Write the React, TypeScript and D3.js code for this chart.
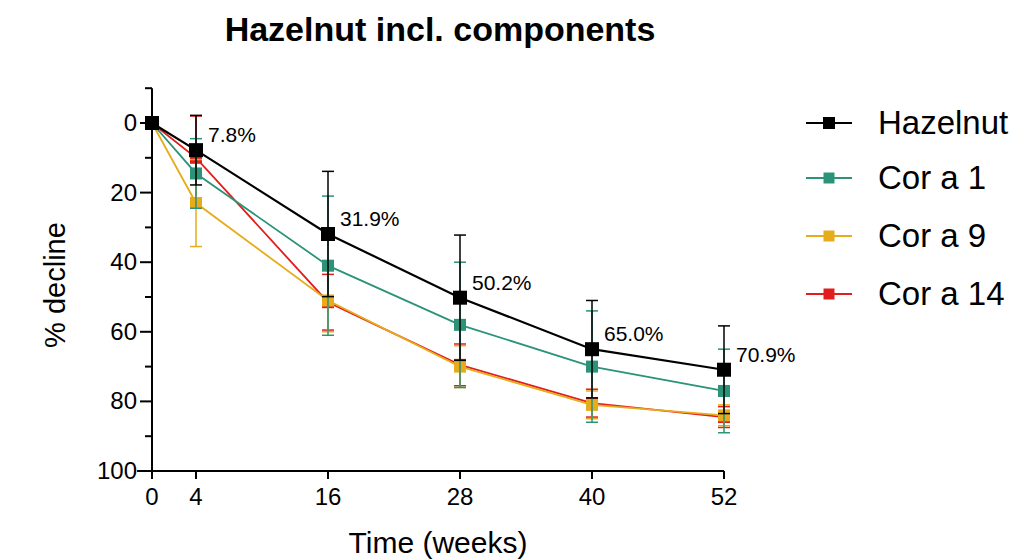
import React from "react";
import * as d3 from "d3";

const weeks = [0, 4, 16, 28, 40, 52];
const seriesNames = ["Hazelnut", "Cor a 1", "Cor a 9", "Cor a 14"];
const seriesColors = ["#000000", "#2a9378", "#e6ac1c", "#e21d1d"];
const hazelnutValues = [0, 7.8, 31.9, 50.2, 65.0, 70.9];
const hazelnutErrors = [0, 10, 18, 18, 14, 12.6];
const cora1Values = [0, 14.5, 41, 58, 70, 77];
const cora1Errors = [0, 10, 20, 18, 16, 12];
const cora9Values = [0, 23, 51, 70, 81, 84];
const cora9Errors = [0, 12.5, 9, 6, 4, 3];
const cora14Values = [0, 10, 51.5, 69.5, 80.5, 84.5];
const cora14Errors = [0, 12, 8, 6, 4, 3];
const percentLabels = ["7.8%", "31.9%", "50.2%", "65.0%", "70.9%"];
const yTicks = [0, 20, 40, 60, 80, 100];
const yMinorTicks = [-10, 10, 30, 50, 70, 90];

const allValues = [hazelnutValues, cora1Values, cora9Values, cora14Values];
const allErrors = [hazelnutErrors, cora1Errors, cora9Errors, cora14Errors];

export default function App() {
  const x = d3.scaleLinear().domain([0, 52]).range([152, 724]);
  const y = d3.scaleLinear().domain([0, 100]).range([123, 471]);
  const line = d3
    .line<number>()
    .x((_, i) => x(weeks[i]))
    .y((d) => y(d));
  const font = "Liberation Sans, Arial, sans-serif";
  const drawOrder = [3, 2, 1, 0];
  return (
    <svg
      width={1026}
      height={560}
      style={{ position: "absolute", left: 0, top: 0, background: "#fff" }}
      fontFamily={font}
    >
      <rect width={1026} height={560} fill="#fff" />
      <text x={440} y={41} textAnchor="middle" fontSize={34} fontWeight="bold">
        Hazelnut incl. components
      </text>
      {/* axes */}
      <line x1={x(0)} x2={x(0)} y1={y(-10)} y2={y(100)} stroke="#000" strokeWidth={2} />
      <line x1={137} x2={x(52)} y1={y(100)} y2={y(100)} stroke="#000" strokeWidth={2} />
      {yTicks.map((t) => (
        <g key={"y" + t}>
          <line x1={x(0) - 12} x2={x(0)} y1={y(t)} y2={y(t)} stroke="#000" strokeWidth={2} />
          <text x={x(0) - 15} y={y(t) + 8} textAnchor="end" fontSize={24}>
            {t}
          </text>
        </g>
      ))}
      {yMinorTicks.map((t) => (
        <line key={"m" + t} x1={x(0) - 7} x2={x(0)} y1={y(t)} y2={y(t)} stroke="#000" strokeWidth={2} />
      ))}
      {weeks.map((w) => (
        <g key={"x" + w}>
          <line x1={x(w)} x2={x(w)} y1={y(100)} y2={y(100) + 8} stroke="#000" strokeWidth={2} />
          <text x={x(w)} y={y(100) + 34} textAnchor="middle" fontSize={24}>
            {w}
          </text>
        </g>
      ))}
      <text x={438} y={553} textAnchor="middle" fontSize={30}>
        Time (weeks)
      </text>
      <text
        transform={`translate(65,${y(50) - 12}) rotate(-90)`}
        textAnchor="middle"
        fontSize={29}
      >
        % decline
      </text>
      {/* series */}
      {drawOrder.map((s) => {
        const vals = allValues[s];
        const errs = allErrors[s];
        const c = seriesColors[s];
        const size = s === 0 ? 14 : 12;
        return (
          <g key={"s" + s}>
            <path d={line(vals) || ""} fill="none" stroke={c} strokeWidth={s === 0 ? 2.2 : 1.8} />
            {vals.map((v, i) =>
              errs[i] > 0 ? (
                <g key={"e" + i} stroke={c} strokeWidth={1.5}>
                  <line x1={x(weeks[i])} x2={x(weeks[i])} y1={y(v - errs[i])} y2={y(v + errs[i])} />
                  <line x1={x(weeks[i]) - 6} x2={x(weeks[i]) + 6} y1={y(v - errs[i])} y2={y(v - errs[i])} />
                  <line x1={x(weeks[i]) - 6} x2={x(weeks[i]) + 6} y1={y(v + errs[i])} y2={y(v + errs[i])} />
                </g>
              ) : null
            )}
            {vals.map((v, i) => (
              <rect
                key={"p" + i}
                x={x(weeks[i]) - size / 2}
                y={y(v) - size / 2}
                width={size}
                height={size}
                fill={c}
              />
            ))}
          </g>
        );
      })}
      {percentLabels.map((lab, i) => (
        <text
          key={"l" + i}
          x={x(weeks[i + 1]) + 12}
          y={y(hazelnutValues[i + 1]) - 8}
          fontSize={21}
        >
          {lab}
        </text>
      ))}
      {/* legend */}
      {seriesNames.map((n, i) => {
        const ly = [123, 178, 236, 294][i];
        const c = seriesColors[i];
        const size = i === 0 ? 12 : 11;
        return (
          <g key={"lg" + i}>
            <line x1={806} x2={852} y1={ly} y2={ly} stroke={c} strokeWidth={2} />
            <rect x={829 - size / 2} y={ly - size / 2} width={size} height={size} fill={c} />
            <text x={878} y={ly + 11} fontSize={33}>
              {n}
            </text>
          </g>
        );
      })}
    </svg>
  );
}
